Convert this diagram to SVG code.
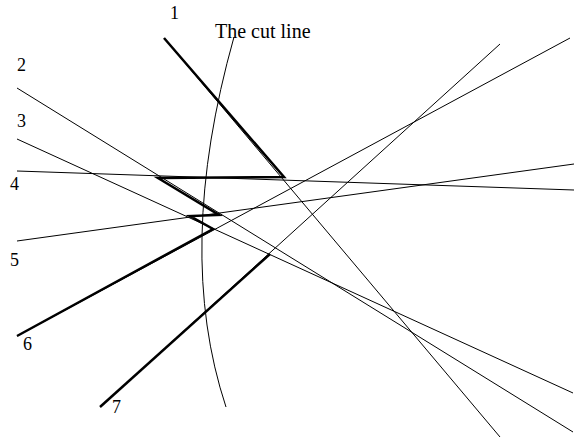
<svg xmlns="http://www.w3.org/2000/svg" width="574" height="443" viewBox="0 0 574 443">
<style>
.thin{stroke:#000;stroke-width:1;fill:none}
.thick{stroke:#000;stroke-width:2.5;fill:none;stroke-linejoin:miter}
.lbl{font-family:"Liberation Serif",serif;font-size:18px;fill:#000}
.ttl{font-family:"Liberation Serif",serif;font-size:20px;fill:#000}
</style>
<rect width="574" height="443" fill="#fff"/>
<g id="cut-line">
<path class="thin" d="M234,37 Q174,250 226,407"/>
<text class="ttl" x="215" y="38">The cut line</text>
</g>
<g id="connectors">
<line class="thin" x1="164" y1="38" x2="500" y2="437"/>
<line class="thin" x1="17" y1="88" x2="573" y2="432"/>
<line class="thin" x1="17" y1="139" x2="573" y2="393"/>
<line class="thin" x1="17" y1="171" x2="574" y2="190"/>
<line class="thin" x1="17" y1="241" x2="574" y2="164"/>
<line class="thin" x1="17" y1="336" x2="570" y2="38"/>
<line class="thin" x1="100" y1="407" x2="500" y2="44"/>
<path class="thick" d="M164,38 L284,177 L158,178 L219,215 L190,216 L213,229 L17,336"/>
<path class="thick" d="M100,407 L270,254"/>
</g>
<g id="labels">
<text class="lbl" x="170" y="19">1</text>
<text class="lbl" x="17" y="71">2</text>
<text class="lbl" x="17" y="127">3</text>
<text class="lbl" x="10" y="190">4</text>
<text class="lbl" x="10" y="266">5</text>
<text class="lbl" x="23" y="350">6</text>
<text class="lbl" x="112" y="413">7</text>
</g>
</svg>
